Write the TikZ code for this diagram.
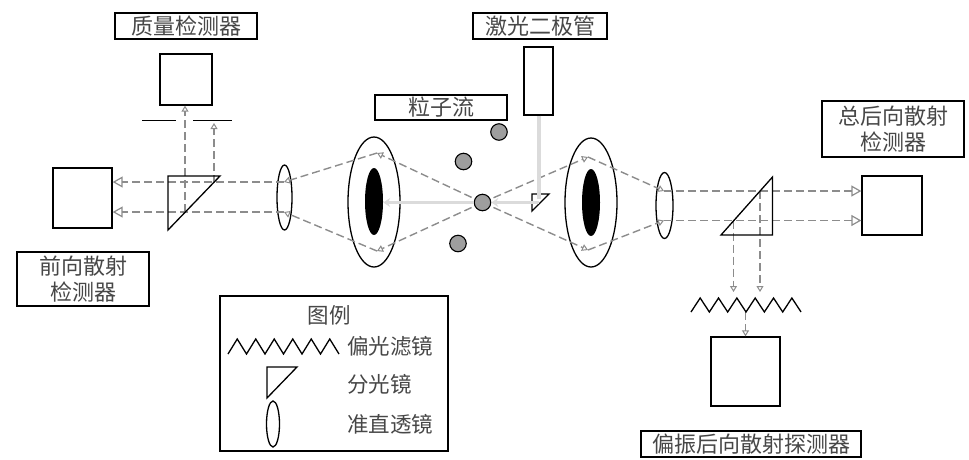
\documentclass[tikz,border=0pt]{standalone}
\usepackage{fontspec}
\setmainfont{Noto Sans CJK SC}
\usetikzlibrary{arrows.meta}
\usetikzlibrary{shapes.geometric}
\tikzset{
  label box/.style={draw, line width=1.3pt, inner sep=0pt, align=center, text=black!72, font=\fontsize{22}{26.5}\selectfont},
  legend text/.style={text=black!72, font=\fontsize{21.5}{24}\selectfont},
  detector/.style={draw, line width=1.3pt, inner sep=0pt},
  lens/.style={ellipse, draw, line width=1.3pt, inner sep=0pt},
  core/.style={ellipse, fill=black, inner sep=0pt, minimum width=18pt, minimum height=67pt},
  particle/.style={circle, draw, fill=black!38, line width=1.1pt, inner sep=0pt, minimum size=16.5pt},
  beam/.style={draw=black!45, line width=1.4pt, dash pattern=on 8pt off 4pt},
  big tip/.style={-{Triangle[open, length=10pt, width=11pt, line width=1.2pt]}},
  small tip/.style={-{Triangle[open, length=6pt, width=7pt, line width=1pt]}},
  pump/.style={draw=black!14, line width=3.6pt},
}
\begin{document}
\begin{tikzpicture}[x=1pt, y=-1pt]
  \useasboundingbox (0,0) rectangle (969,459);
  % Labels
  \node[label box, minimum width=142pt, minimum height=26pt] (massLabel) at (186,26) {质量检测器};
  \node[label box, minimum width=134pt, minimum height=26pt] (laserLabel) at (540,26) {激光二极管};
  \node[label box, minimum width=132pt, minimum height=25pt] (streamLabel) at (441,107.5) {粒子流};
  \node[label box, minimum width=142pt, minimum height=56pt] (backLabel) at (893,129) {总后向散射\\检测器};
  \node[label box, minimum width=132pt, minimum height=54pt] (frontLabel) at (83,279) {前向散射\\检测器};
  \node[label box, minimum width=220pt, minimum height=26pt] (polLabel) at (751,444) {偏振后向散射探测器};

  % Detectors and laser
  \node[detector, minimum width=52pt, minimum height=51pt] (massDet) at (186,79.5) {};
  \node[detector, minimum width=59pt, minimum height=60pt] (frontDet) at (82.5,198) {};
  \node[detector, minimum width=29pt, minimum height=68pt] (laser) at (538.5,81) {};
  \node[detector, minimum width=60pt, minimum height=59pt] (backDet) at (892,205.5) {};
  \node[detector, minimum width=69pt, minimum height=69pt] (polDet) at (745.5,371.5) {};

  % Lenses
  \node[lens, minimum width=15pt, minimum height=65pt] (lensA) at (284.5,197.5) {};
  \node[lens, minimum width=52pt, minimum height=130pt] (lensB) at (374,202) {};
  \node[core] (coreB) at (374,201.5) {};
  \node[lens, minimum width=52pt, minimum height=129pt] (lensC) at (591,202.5) {};
  \node[core] (coreC) at (591,202.5) {};
  \node[lens, minimum width=17pt, minimum height=66pt] (lensD) at (664.5,205.5) {};

  % Slit
  \draw[line width=1.3pt] (142,120.5) coordinate (slitA) -- (176,120.5) coordinate (slitB);
  \draw[line width=1.3pt] (193,120.5) coordinate (slitC) -- (232,120.5) coordinate (slitD);

  % Beam points
  \coordinate (aTop) at (284,182);
  \coordinate (aBot) at (284,212);
  \coordinate (bTop) at (377,153);
  \coordinate (bBot) at (377,251);
  \coordinate (cTop) at (588,157);
  \coordinate (cBot) at (588,250);
  \coordinate (dTop) at (664,191);
  \coordinate (dBot) at (664,220.5);
  \coordinate (pc) at (482.5,202.5);

  % Collected light
  \draw[beam, small tip] (pc) -- (bTop);
  \draw[beam, small tip] (pc) -- (bBot);
  \draw[beam, small tip] (bTop) -- (aTop);
  \draw[beam, small tip] (bBot) -- (aBot);
  \draw[beam, small tip] (pc) -- (cTop);
  \draw[beam, small tip] (pc) -- (cBot);
  \draw[beam, small tip] (cTop) -- (dTop);
  \draw[beam, small tip] (cBot) -- (dBot);
  \draw[beam, big tip] (aTop) -- (frontDet.east |- aTop);
  \draw[beam, big tip] (aBot) -- (frontDet.east |- aBot);
  \draw[beam, big tip] (dTop) -- (backDet.west |- dTop);
  \draw[beam, big tip] (dBot) -- (backDet.west |- dBot);
  % Turned up and down
  \coordinate (upA) at (185,212);
  \coordinate (upB) at (214,183);
  \coordinate (downA) at (733.5,220.5);
  \coordinate (downB) at (760,191);
  \draw[beam, small tip] (upA) -- (upA |- massDet.south);
  \draw[beam, small tip] (upB) -- (214,123) coordinate (upEnd);
  \draw[beam, small tip] (downA) -- (733.5,292) coordinate (downEndA);
  \draw[beam, small tip] (downB) -- (760,292) coordinate (downEndB);
  \coordinate (zigMid) at (745.5,312);
  \draw[beam, small tip] (zigMid) -- (zigMid |- polDet.north);

  % Beam splitters
  \draw[line width=1.3pt] (168,176) -- (220,176) -- (168,230) -- cycle;
  \draw[line width=1.3pt] (772.5,177) -- (772.5,235) -- (721,235) -- cycle;
  \draw[line width=1.3pt] (532,194) -- (549,194) -- (532,211) -- cycle;

  % Polarizing filter
  \draw[line width=1.3pt] (691,312) \foreach \i in {1,...,6}{ -- ++(9.17,-14) -- ++(9.17,14)};

  % Pump light
  \coordinate (turn) at (539,199);
  \draw[pump] (laser.south) ++(0.5,0) -- (turn);
  \node[particle] (p1) at (499,132) {};
  \node[particle] (p2) at (463.5,161.5) {};
  \node[particle] (p3) at (458,243.5) {};
  \node[particle] (p4) at (pc) {};
  \draw[pump, -{Stealth[length=7pt, width=9pt]}] (turn |- p4) -- (p4.east);
  \draw[pump, -{Stealth[length=7pt, width=9pt]}] (p4.west) -- (coreB.east |- p4);

  % Legend
  \node[detector, minimum width=228pt, minimum height=155pt] (legend) at (334,373.5) {};
  \node[legend text] (legendTitle) at (329,315) {图例};
  \draw[line width=1.3pt] (228,354) \foreach \i in {1,...,6}{ -- ++(9.25,-15) -- ++(9.25,15)};
  \node[legend text] (legendFilter) at (390,346) {偏光滤镜};
  \draw[line width=1.3pt] (267,367) -- (297,367) -- (267,398) -- cycle;
  \node[legend text] (legendSplit) at (379.5,384) {分光镜};
  \node[lens, minimum width=13pt, minimum height=46pt] (legendLens) at (273,424) {};
  \node[legend text] (legendColl) at (390,424) {准直透镜};
\end{tikzpicture}
\end{document}
